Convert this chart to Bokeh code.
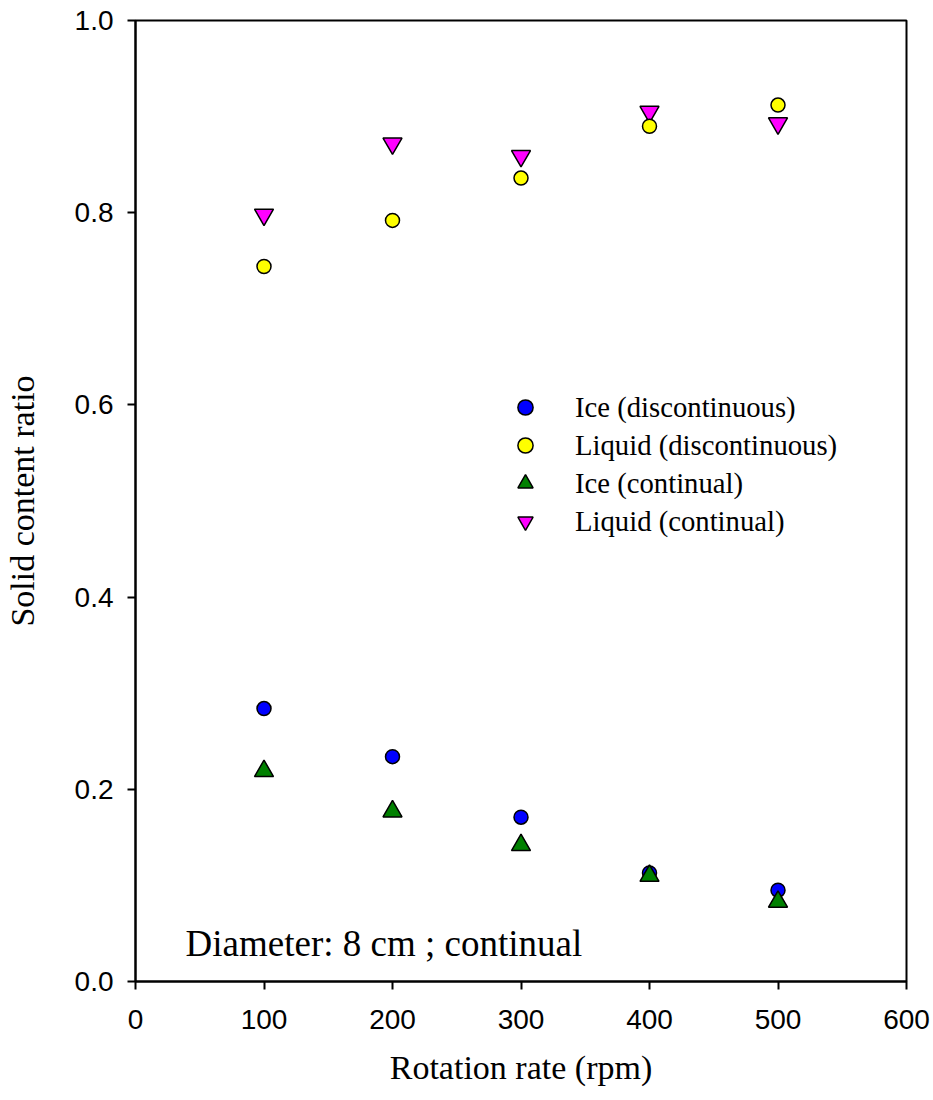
from bokeh.plotting import figure
from bokeh.models import (Range1d, FixedTicker, PrintfTickFormatter, Legend,
                          LegendItem, Label)
from bokeh.embed import file_html
from bokeh.resources import INLINE

# Rotation rate (rpm)
rotation_rate = [100, 200, 300, 400, 500]

# Solid content ratio for each series
ice_discontinuous = [0.284, 0.234, 0.171, 0.113, 0.095]
liquid_discontinuous = [0.744, 0.792, 0.836, 0.890, 0.912]
ice_continual = [0.219, 0.177, 0.142, 0.110, 0.083]
liquid_continual = [0.798, 0.872, 0.859, 0.905, 0.893]

x_ticks = [0, 100, 200, 300, 400, 500, 600]
y_ticks = [0.0, 0.2, 0.4, 0.6, 0.8, 1.0]

note_text = "Diameter: 8 cm ; continual"

SERIF = "Liberation Serif"
SANS = "Liberation Sans"

p = figure(width=933, height=1100, output_backend="svg", toolbar_location=None,
           x_range=Range1d(0, 600), y_range=Range1d(0, 1),
           min_border_left=135, min_border_right=27,
           min_border_top=20, min_border_bottom=119)

p.xgrid.visible = False
p.ygrid.visible = False
p.outline_line_color = "black"
p.outline_line_width = 2
p.background_fill_color = "white"
p.border_fill_color = "white"

for ax in (p.xaxis[0], p.yaxis[0]):
    ax.axis_line_width = 2
    ax.axis_line_color = "black"
    ax.major_tick_line_width = 2
    ax.major_tick_line_color = "black"
    ax.major_tick_in = 0
    ax.major_tick_out = 8
    ax.minor_tick_line_color = None
    ax.major_label_text_font = SANS
    ax.major_label_text_font_size = "28px"
    ax.major_label_text_color = "black"
    ax.axis_label_text_font = SERIF
    ax.axis_label_text_font_size = "34px"
    ax.axis_label_text_font_style = "normal"
    ax.axis_label_text_color = "black"

p.xaxis[0].ticker = FixedTicker(ticks=x_ticks)
p.yaxis[0].ticker = FixedTicker(ticks=y_ticks)
p.yaxis[0].formatter = PrintfTickFormatter(format="%.1f")
p.xaxis[0].axis_label = "Rotation rate (rpm)"
p.yaxis[0].axis_label = "Solid content ratio"
p.xaxis[0].major_label_standoff = 20
p.yaxis[0].major_label_standoff = 14
p.xaxis[0].axis_label_standoff = 17
p.yaxis[0].axis_label_standoff = 31

common = dict(line_color="black", line_width=1.5)
r_ice_d = p.scatter(rotation_rate, ice_discontinuous, marker="circle", size=14,
                    fill_color="#0000FF", **common)
r_liq_c = p.scatter(rotation_rate, liquid_continual, marker="inverted_triangle",
                    size=19, fill_color="#FF00FF", **common)
r_liq_d = p.scatter(rotation_rate, liquid_discontinuous, marker="circle", size=14,
                    fill_color="#FFFF00", **common)
r_ice_c = p.scatter(rotation_rate, ice_continual, marker="triangle", size=19,
                    fill_color="#008000", **common)

legend = Legend(items=[
    LegendItem(label="Ice (discontinuous)", renderers=[r_ice_d]),
    LegendItem(label="Liquid (discontinuous)", renderers=[r_liq_d]),
    LegendItem(label="Ice (continual)", renderers=[r_ice_c]),
    LegendItem(label="Liquid (continual)", renderers=[r_liq_c]),
], location=(370, 441))
legend.label_text_font = SERIF
legend.label_text_font_size = "28.7px"
legend.label_text_color = "black"
legend.glyph_width = 40
legend.glyph_height = 38
legend.label_height = 38
legend.spacing = 0
legend.padding = 0
legend.margin = 0
legend.label_standoff = 30
legend.border_line_color = None
legend.background_fill_alpha = 0
p.add_layout(legend, "center")

p.add_layout(Label(x=39, y=0.04, text=note_text, text_font=SERIF,
                   text_font_size="37px", text_color="black",
                   text_baseline="alphabetic"))

open("out.html", "w").write(file_html(p, INLINE))
